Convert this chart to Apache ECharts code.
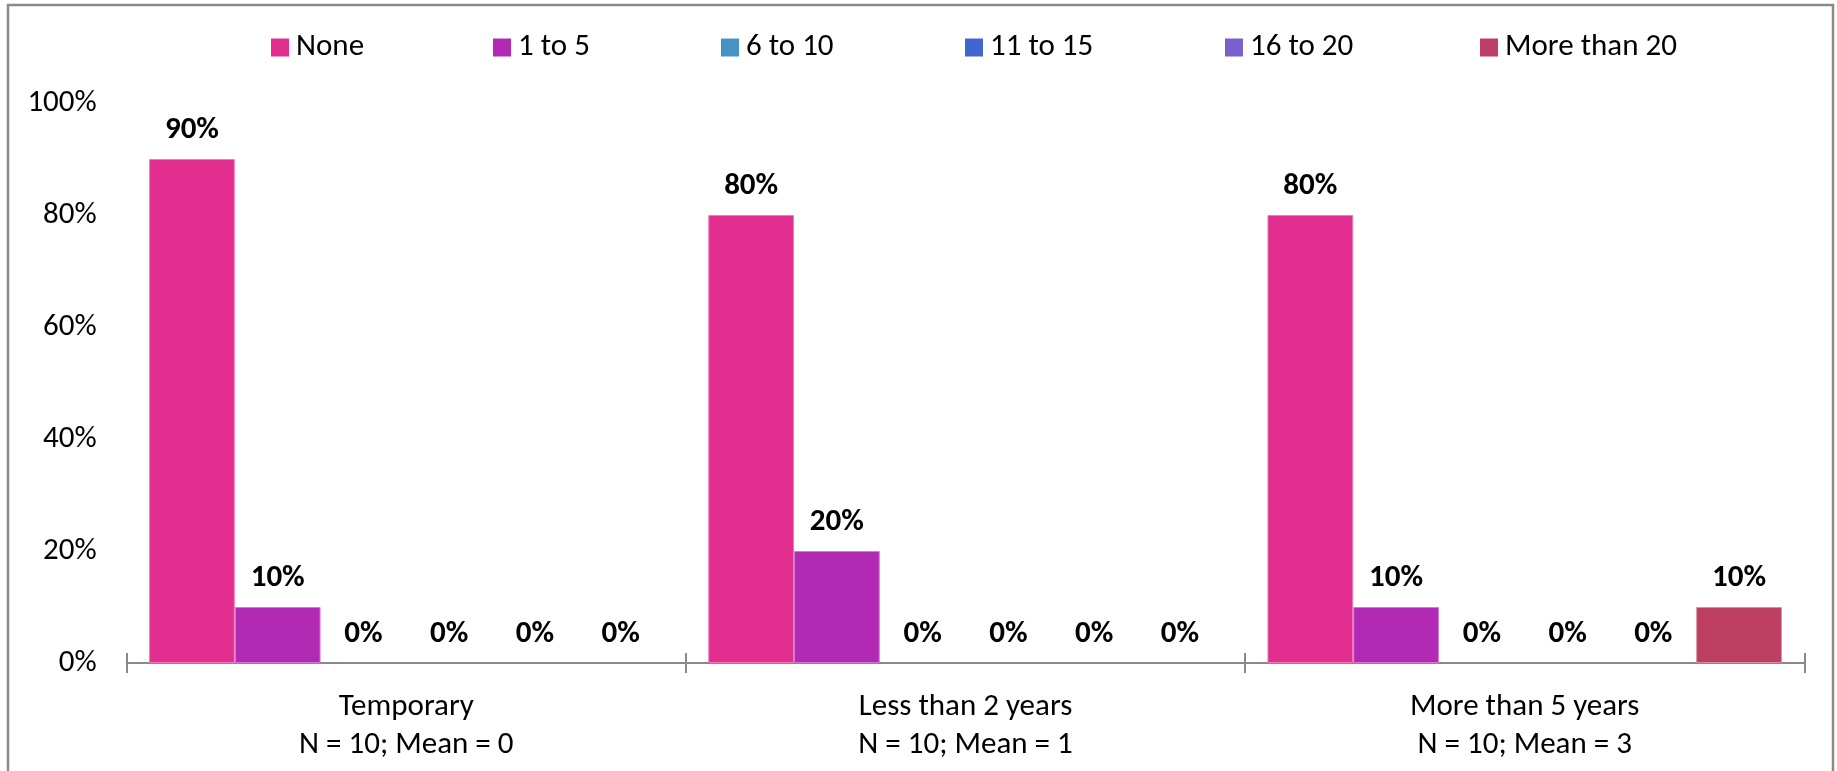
<!DOCTYPE html>
<html>
<head>
<meta charset="utf-8">
<script src="https://cdn.jsdelivr.net/npm/echarts@6/dist/echarts.min.js"></script>
<style>
html,body{margin:0;padding:0;background:#fff;}
#chart{width:1837px;height:771px;}
</style>
</head>
<body>
<div id="chart"></div>
<script>
const categories = ['Temporary', 'Less than 2 years', 'More than 5 years'];
const subLabels = ['N = 10; Mean = 0', 'N = 10; Mean = 1', 'N = 10; Mean = 3'];
const seriesNames = ['None', '1 to 5', '6 to 10', '11 to 15', '16 to 20', 'More than 20'];
const noneVals = [90, 80, 80];
const oneToFive = [10, 20, 10];
const sixToTen = [0, 0, 0];
const elevenToFifteen = [0, 0, 0];
const sixteenToTwenty = [0, 0, 0];
const moreThanTwenty = [0, 0, 10];
const yTicks = [0, 20, 40, 60, 80, 100];

const allValues = [noneVals, oneToFive, sixToTen, elevenToFifteen, sixteenToTwenty, moreThanTwenty];
const colors = ['#E22E8F', '#B22AB4', '#4493C5', '#3F66CF', '#7B5FCB', '#BD3F64'];
const borders = ['#F07AB8', '#D07AD2', '#8CC0E0', '#8CA5E6', '#B2A2E4', '#DC8AA2'];
const legendLeft = [266, 488, 716, 960, 1220, 1475];
const FONT = 'Carlito, Calibri, Lato, sans-serif';
const FS = 31;

const chart = echarts.init(document.getElementById('chart'), null, {renderer: 'canvas'});
const xLabels = categories.map((c, i) => c + '\n' + subLabels[i]);

const option = {
  backgroundColor: '#fff',
  animation: false,
  textStyle: {fontFamily: FONT},
  color: colors,
  graphic: [{
    type: 'rect',
    shape: {x: 8, y: 5, width: 1825, height: 800},
    style: {fill: 'none', stroke: '#8a8a8a', lineWidth: 2.5},
    silent: true
  }],
  legend: seriesNames.map((name, i) => ({
    top: 27,
    left: legendLeft[i],
    itemWidth: 18,
    itemHeight: 18,
    icon: 'rect',
    selectedMode: false,
    textStyle: {fontFamily: FONT, fontSize: FS, color: '#000', padding: [0, 0, 0, 2]},
    data: [name]
  })),
  grid: {left: 126.7, right: 32.7, top: 103, bottom: 108, containLabel: false},
  xAxis: [{
    type: 'category',
    data: xLabels,
    axisLine: {show: true, lineStyle: {color: '#898989', width: 2}},
    axisTick: {show: true, length: 10, lineStyle: {color: '#898989', width: 2}},
    axisLabel: {fontFamily: FONT, fontSize: FS, color: '#000', margin: 25, lineHeight: 38},
    splitLine: {show: false}
  }, {
    type: 'category',
    data: xLabels,
    position: 'bottom',
    axisLine: {show: false},
    axisTick: {show: true, inside: true, length: 10, lineStyle: {color: '#898989', width: 2}},
    axisLabel: {show: false},
    splitLine: {show: false}
  }],
  yAxis: {
    type: 'value',
    min: yTicks[0],
    max: yTicks[yTicks.length - 1],
    interval: yTicks[1] - yTicks[0],
    axisLine: {show: false},
    axisTick: {show: false},
    splitLine: {show: false},
    axisLabel: {formatter: '{value}%', fontFamily: FONT, fontSize: FS, color: '#000', margin: 30}
  },
  series: seriesNames.map((name, i) => ({
    name: name,
    type: 'bar',
    xAxisIndex: 0,
    data: allValues[i].map(v => ({value: v, itemStyle: {borderWidth: v ? 1 : 0}})),
    barGap: '0%',
    barCategoryGap: '8%',
    itemStyle: {color: colors[i], borderColor: borders[i]},
    label: {
      show: true,
      position: 'top',
      distance: 13,
      formatter: p => p.value + '%',
      fontFamily: FONT,
      fontSize: FS,
      fontWeight: 'bold',
      color: '#000'
    }
  }))
};
chart.setOption(option);
</script>
</body>
</html>
